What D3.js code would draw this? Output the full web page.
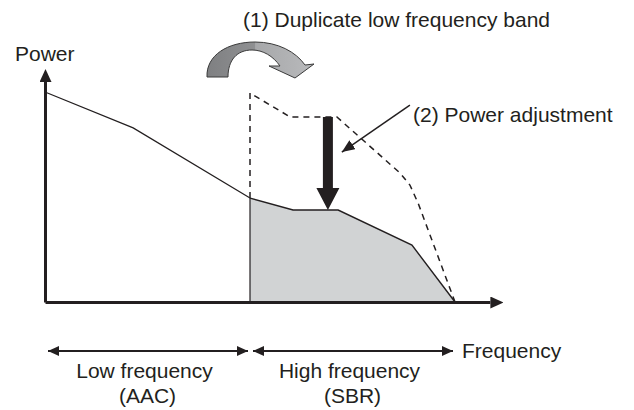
<!DOCTYPE html>
<html>
<head>
    <title>SBR power adjustment</title>
    <script src="https://d3js.org/d3.v7.min.js"></script>
    <style>
        body { margin: 0; background: #fff; }
        text { font-family: "Liberation Sans", Arial, sans-serif; font-size: 21px; fill: #231f20; }
    </style>
</head>
<body>
    <svg width="634" height="410"></svg>
    <script>
        // Frequency (0-100, AAC band 0-50, SBR band 50-100) vs power (0-100)
        var lowBandFreq = [0, 21.5, 50];
        var lowBandPower = [100, 82.9, 49.5];

        var copyFreq = [50, 50, 59.8, 71.2, 86.6, 89, 91, 100];
        var copyPower = [49.5, 99.5, 88.1, 88.1, 61.4, 55.7, 47.1, 0];

        var adjustedFreq = [50, 60.5, 71.5, 89.5, 100];
        var adjustedPower = [49.5, 43.8, 43.8, 27.1, 0];

        var bandNames = ["Low frequency", "High frequency"];
        var bandCodecs = ["(AAC)", "(SBR)"];
        var bandEdges = [0, 50, 100];

        var ink = "#231f20";
        var svg = d3.select("svg");

        // Scales
        var xScale = d3.scaleLinear().domain([0, 108.5]).range([45, 489.85]);
        var yScale = d3.scaleLinear().domain([0, 105]).range([302, 81.5]);

        // Markers / gradient
        var defs = svg.append("defs");
        function arrowMarker(id, len, wid, ref) {
            defs.append("marker")
                .attr("id", id)
                .attr("markerUnits", "userSpaceOnUse")
                .attr("markerWidth", len).attr("markerHeight", wid)
                .attr("viewBox", "0 0 " + len + " " + wid)
                .attr("refX", ref).attr("refY", wid / 2)
                .attr("orient", "auto-start-reverse")
                .append("path")
                .attr("d", "M0,0L" + len + "," + (wid / 2) + "L0," + wid + "Z")
                .attr("fill", ink);
        }
        arrowMarker("axisHead", 13, 12, 0);
        arrowMarker("bandHead", 11, 10, 11);
        arrowMarker("thinHead", 13, 11, 13);

        var grad = defs.append("linearGradient").attr("id", "curveFill")
            .attr("gradientUnits", "userSpaceOnUse")
            .attr("x1", 205).attr("x2", 315).attr("y1", 0).attr("y2", 0);
        grad.append("stop").attr("offset", "0").attr("stop-color", "#7e7f81");
        grad.append("stop").attr("offset", "0.45").attr("stop-color", "#8f9092");
        grad.append("stop").attr("offset", "0.46").attr("stop-color", "#a7a8aa");
        grad.append("stop").attr("offset", "1").attr("stop-color", "#b9babc");

        // Shaded SBR band (after power adjustment)
        var adjusted = adjustedFreq.map(function(f, i) { return [f, adjustedPower[i]]; });
        svg.append("path")
            .datum(adjusted)
            .attr("d", d3.area()
                .x(function(d) { return xScale(d[0]); })
                .y0(yScale(0))
                .y1(function(d) { return yScale(d[1]); }))
            .attr("fill", "#d1d3d4");

        svg.append("line")
            .attr("x1", xScale(50)).attr("x2", xScale(50))
            .attr("y1", yScale(adjustedPower[0])).attr("y2", yScale(0))
            .attr("stroke", ink).attr("stroke-width", 1.2);

        var line = d3.line()
            .x(function(d) { return xScale(d[0]); })
            .y(function(d) { return yScale(d[1]); });

        svg.append("path")
            .datum(adjusted)
            .attr("d", line)
            .attr("fill", "none").attr("stroke", ink).attr("stroke-width", 1.4);

        // Low band (AAC)
        svg.append("path")
            .datum(lowBandFreq.map(function(f, i) { return [f, lowBandPower[i]]; }))
            .attr("d", line)
            .attr("fill", "none").attr("stroke", ink).attr("stroke-width", 1.2);

        // Duplicated low band (dashed)
        svg.append("path")
            .datum(copyFreq.map(function(f, i) { return [f, copyPower[i]]; }))
            .attr("d", line)
            .attr("fill", "none").attr("stroke", ink).attr("stroke-width", 1.5)
            .attr("stroke-dasharray", "6,5");

        // Axes
        var xAxis = svg.append("g")
            .attr("transform", "translate(0," + yScale(0) + ")")
            .call(d3.axisBottom(xScale).ticks(0).tickSizeOuter(0));
        var yAxis = svg.append("g")
            .attr("transform", "translate(" + xScale(0) + ",0)")
            .call(d3.axisLeft(yScale).ticks(0).tickSizeOuter(0));
        [xAxis, yAxis].forEach(function(g) {
            g.select(".domain")
                .attr("stroke", ink).attr("stroke-width", 3)
                .attr("marker-end", "url(#axisHead)");
        });

        svg.append("text").attr("x", 15).attr("y", 61).text("Power");

        // (2) Power adjustment: thick arrow
        var ax = xScale(69), aTop = yScale(88.1), aTip = yScale(43.8);
        var headLen = 22, shaft = 5, head = 11.5;
        svg.append("path")
            .attr("d", "M" + (ax - shaft) + "," + aTop +
                "V" + (aTip - headLen) + "H" + (ax - head) +
                "L" + ax + "," + aTip +
                "L" + (ax + head) + "," + (aTip - headLen) +
                "H" + (ax + shaft) + "V" + aTop + "Z")
            .attr("fill", ink);

        svg.append("line")
            .attr("x1", xScale(89)).attr("y1", yScale(93.8))
            .attr("x2", xScale(72.4)).attr("y2", yScale(71.4))
            .attr("stroke", ink).attr("stroke-width", 1.5)
            .attr("marker-end", "url(#thinHead)");
        svg.append("text").attr("x", 413).attr("y", 122).text("(2) Power adjustment");

        // (1) Duplicate: curved arrow
        var cx = xScale(50);
        function p(dx, y) { return (cx + dx) + "," + y; }
        svg.append("path")
            .attr("d", "M" + p(-43, 77) +
                "C" + p(-44, 55) + " " + p(-22, 42) + " " + p(5, 42) +
                "C" + p(28, 42) + " " + p(46, 52) + " " + p(55, 65) +
                "L" + p(64, 64) + "L" + p(45, 78) + "L" + p(19, 66) + "L" + p(30, 66) +
                "C" + p(23, 56) + " " + p(13, 50) + " " + p(2, 50) +
                "C" + p(-13, 50) + " " + p(-22, 60) + " " + p(-22, 77) + "Z")
            .attr("fill", "url(#curveFill)")
            .attr("stroke", "#3a3a3a").attr("stroke-width", 1);
        svg.append("text").attr("x", 243).attr("y", 27).text("(1) Duplicate low frequency band");

        // Band ranges below the axis
        var bands = svg.append("g").selectAll("g")
            .data(bandNames)
            .enter().append("g");
        bands.append("line")
            .attr("x1", function(d, i) { return xScale(bandEdges[i]) + 3; })
            .attr("x2", function(d, i) { return xScale(bandEdges[i + 1]) - 2; })
            .attr("y1", 351).attr("y2", 351)
            .attr("stroke", ink).attr("stroke-width", 2)
            .attr("marker-start", "url(#bandHead)")
            .attr("marker-end", "url(#bandHead)");
        bands.append("text")
            .attr("x", function(d, i) { return (xScale(bandEdges[i]) + xScale(bandEdges[i + 1])) / 2 - 3; })
            .attr("y", 378)
            .attr("text-anchor", "middle")
            .text(function(d) { return d; });
        bands.append("text")
            .attr("x", function(d, i) { return (xScale(bandEdges[i]) + xScale(bandEdges[i + 1])) / 2; })
            .attr("y", 403)
            .attr("text-anchor", "middle")
            .text(function(d, i) { return bandCodecs[i]; });

        svg.append("text").attr("x", 462).attr("y", 358).text("Frequency");
    </script>
</body>
</html>
